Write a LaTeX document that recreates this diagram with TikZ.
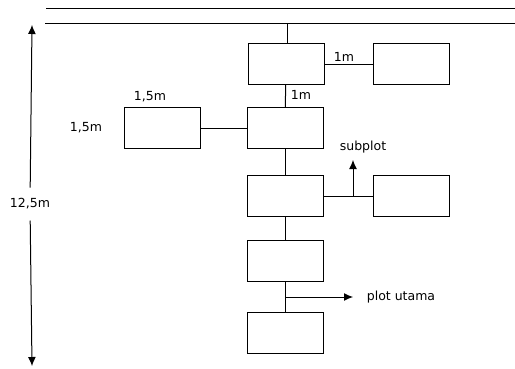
\documentclass[tikz,border=0pt]{standalone}
\usepackage{fontspec}
\setmainfont{DejaVu Sans}
\usetikzlibrary{arrows.meta}
\begin{document}
\begin{tikzpicture}[x=1pt,y=-1pt,line width=1pt]
\tikzset{plot/.style={draw, rectangle, minimum width=76pt, minimum height=41pt, inner sep=0pt},
  lbl/.style={font=\fontsize{12.5}{14}\selectfont, inner sep=1pt},
  tip/.style={-{Latex[length=9pt,width=8pt]}}}
\useasboundingbox (0,0) rectangle (515,368);
\coordinate (r1a) at (46,8); \coordinate (r1b) at (515,8);
\coordinate (r2a) at (45,23); \coordinate (r2b) at (515,23);
\draw (r1a) -- (r1b);
\draw (r2a) -- (r2b);
\node[plot] at (286,64) (p1) {};
\node[plot] at (411,64) (s1) {};
\node[plot] at (285,128) (p2) {};
\node[plot] at (162,128) (s2) {};
\node[plot] at (285,196) (p3) {};
\node[plot] at (411,196) (s3) {};
\node[plot] at (285,261) (p4) {};
\node[plot] at (285,333) (p5) {};
\coordinate (top) at (287,23);
\draw (top) -- (top |- p1.north);
\path (p1) edge (p2) (p2) edge (p3) (p3) edge (p4) (p4) edge (p5);
\path (p1) edge (s1) (p2) edge (s2) (p3) edge (s3);
\node[lbl] at (344,57) (d1) {1m};
\node[lbl] at (301,95) (d2) {1m};
\node[lbl] at (150,97) (d3) {1,5m};
\node[lbl] at (86,128) (d4) {1,5m};
% subplot arrow
\coordinate (j3) at (353,196);
\coordinate (subtip) at (353,160);
\draw[tip] (j3) -- (subtip);
\node[lbl] at (363,147) (sub) {subplot};
% plot utama arrow
\coordinate (j4) at (285,297);
\coordinate (maintip) at (353,297);
\draw[tip] (j4) -- (maintip);
\node[lbl] at (401,297) (main) {plot utama};
% dimension
\coordinate (dtop) at (32,25);
\coordinate (dbot) at (32,366);
\node[lbl, minimum height=32pt] at (30,204) (dim) {12,5m};
\draw[tip] (dim) -- (dtop);
\draw[tip] (dim) -- (dbot);
\end{tikzpicture}
\end{document}
